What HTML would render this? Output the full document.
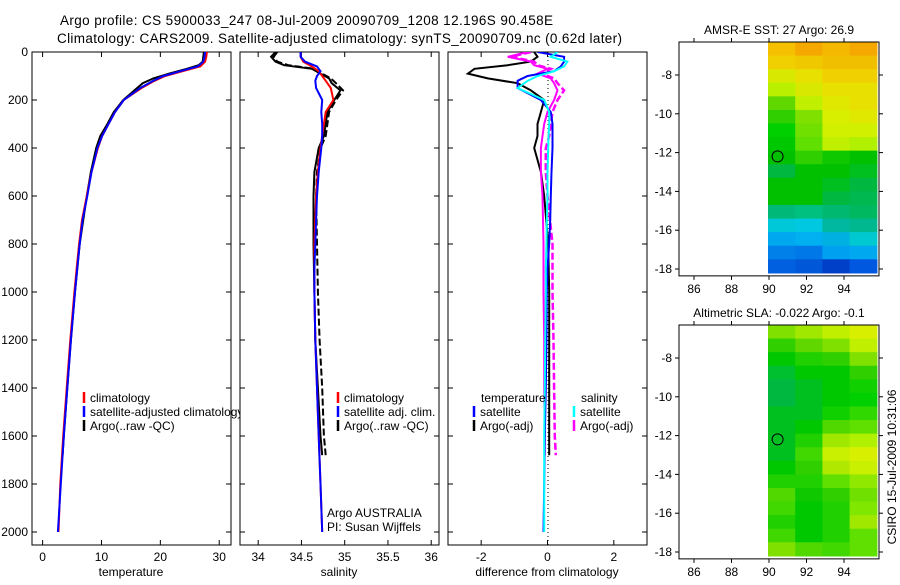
<!DOCTYPE html>
<html><head><meta charset="utf-8"><style>
body{margin:0;background:#fff;}
svg text{font-family:"Liberation Sans",sans-serif;font-size:12px;fill:#000;}
</style></head><body>
<svg id="fig" width="900" height="580" viewBox="0 0 900 580">
<defs>
<clipPath id="c1"><rect x="32" y="52" width="199" height="493"/></clipPath>
<clipPath id="c2"><rect x="240" y="52" width="199" height="493"/></clipPath>
<clipPath id="c3"><rect x="448" y="52" width="199" height="493"/></clipPath>
</defs>
<rect width="900" height="580" fill="#fff"/>
<text x="60" y="25" style="font-size:13.5px" textLength="493">Argo profile: CS 5900033_247 08-Jul-2009 20090709_1208 12.196S 90.458E</text>
<text x="57" y="43" style="font-size:13.5px" textLength="565">Climatology: CARS2009. Satellite-adjusted climatology: synTS_20090709.nc (0.62d later)</text>
<g id="root"></g>
<text transform="translate(896,467) rotate(-90)" text-anchor="middle">CSIRO 15-Jul-2009 10:31:06</text>
</svg>
<script>
// ---- data ----
const tDepth=[0,20,40,60,80,100,120,150,200,250,300,350,400,500,600,700,800,900,1000,1200,1400,1600,1800,2000];
const tClim=[27.9,27.8,27.6,26.8,23.8,20.8,19.0,16.8,13.8,12.3,11.2,10.1,9.4,8.3,7.5,6.7,6.2,5.8,5.4,4.7,4.1,3.5,3.0,2.7];
const tSat=[27.6,27.5,27.3,26.4,23.4,20.5,18.8,16.6,13.8,12.3,11.2,10.1,9.3,8.3,7.6,6.8,6.3,5.9,5.5,4.8,4.2,3.6,3.1,2.6];
const aDepth=[0,20,40,55,70,90,110,130,160,200,250,300,350,400,500,600,800,1000,1200,1400,1600,1680];
const tArgo=[27.4,27.3,27.2,26.5,24.5,21.5,18.8,17.0,15.6,13.7,12.1,11.0,9.8,9.1,8.2,7.5,6.3,5.5,4.8,4.2,3.6,3.4];
const sClim=[34.49,34.49,34.52,34.62,34.70,34.74,34.78,34.84,34.87,34.78,34.76,34.74,34.72,34.69,34.67,34.66,34.65,34.65,34.65,34.66,34.68,34.70,34.72,34.74];
const sSat=[34.49,34.49,34.54,34.68,34.72,34.68,34.66,34.67,34.74,34.73,34.74,34.74,34.73,34.70,34.68,34.67,34.66,34.65,34.65,34.66,34.68,34.70,34.72,34.74];
const sArgo=[34.20,34.15,34.20,34.30,34.62,34.72,34.82,34.85,34.95,34.88,34.80,34.78,34.76,34.70,34.65,34.64,34.64,34.65,34.66,34.69,34.72,34.74];
const sArgoQC=[34.22,34.18,34.22,34.35,34.65,34.74,34.84,34.90,34.98,34.90,34.82,34.80,34.78,34.72,34.68,34.67,34.68,34.69,34.71,34.74,34.76,34.78];
const dTSat=[-0.3,0.5,0.5,0.4,0.2,-0.6,-0.9,-0.9,-0.2,0.1,0.15,0.15,0.15,0.12,0.1,0.08,0.05,0.0,-0.02,-0.03,-0.05,-0.08,-0.1,-0.12];
const dSSat=[0.3,0.1,0.6,0.5,0.2,-0.3,-0.6,-0.9,-0.1,0.05,0.05,0.03,0.02,0.0,0.0,-0.02,-0.03,-0.05,-0.05,-0.07,-0.08,-0.1,-0.1,-0.1];
const dTArgo=[-0.4,-0.3,-0.5,-1.2,-2.2,-2.4,-1.8,-0.9,-0.5,-0.1,-0.2,-0.3,-0.3,-0.4,-0.2,-0.1,0.02,0.05,0.05,0.05,0.05,0.05];
const dSArgo=[-0.5,-1.1,-0.4,-0.3,0.1,-0.2,0.2,0.3,0.5,0.3,0.15,0.1,0.05,-0.05,-0.05,0.0,0.15,0.15,0.18,0.2,0.22,0.25];
const dSArgoRaw=[-0.6,-1.2,-0.5,-0.4,0.0,-0.3,0.1,0.2,0.3,0.2,0.0,-0.1,-0.15,-0.2,-0.2,-0.15,-0.12,-0.12,-0.1,-0.1,-0.08,-0.08];
const yTicks=[0,200,400,600,800,1000,1200,1400,1600,1800,2000];
const p1Ticks=[0,10,20,30], p2Ticks=[34,34.5,35,35.5,36], p3Ticks=[-2,0,2];
const lonTicks=[86,88,90,92,94], latTicks=[-8,-10,-12,-14,-16,-18];
const floatLon=90.458, floatLat=-12.196;
const sstGrid=[
["#f5c000","#f5a800","#f5b800","#f5a800"],["#f0d000","#f0c800","#f0c000","#f0c000"],
["#d8e800","#e8e000","#f0d000","#f0d000"],["#b8f000","#d8e800","#e8e000","#e8e000"],
["#60d800","#c0f000","#e0e800","#e8e000"],["#30d000","#80e000","#d8f000","#e0e800"],
["#00d000","#70e000","#d0f000","#d0f000"],["#00c800","#60e000","#c0f000","#b0f000"],
["#00c000","#30d000","#10c800","#00c000"],["#00b840","#00c000","#00c000","#00c020"],
["#00c000","#00c000","#00c020","#00b840"],["#00c000","#00c000","#00b840","#00b850"],
["#00b878","#00c080","#00b870","#00b860"],["#00c8d8","#00c8e0","#00b8a0","#00b890"],
["#00a8f0","#00b0f0","#00b0e0","#00c8d0"],["#0080e8","#0078e8","#00a0f0","#00a8f0"],
["#0060e0","#0058d8","#0040c8","#0058e0"]];
const slaGrid=[
["#80e000","#a0e800","#c0f000","#d8f000"],["#30d000","#60d800","#80e000","#c0f000"],
["#00c800","#20d000","#30d000","#80e000"],["#00c030","#00c800","#00c800","#30d000"],
["#00b840","#00c020","#00c800","#10d000"],["#00b840","#00c020","#00c800","#00d000"],
["#00c020","#00c020","#10d000","#30d800"],["#00c020","#00c800","#50d800","#60e000"],
["#00c020","#20d000","#a0e800","#b0f000"],["#00c020","#40d800","#c8f000","#d8f000"],
["#00c800","#30d000","#b0e800","#c8f000"],["#20d000","#20d000","#60e000","#90e800"],
["#50d800","#10c800","#30d000","#70e000"],["#40d800","#00c800","#20d000","#80e800"],
["#20d000","#00c800","#20d000","#a0e800"],["#40d800","#00c800","#20d000","#60e000"],
["#80e000","#50d800","#40d800","#60e000"]];

// ---- helpers ----
const NS="http://www.w3.org/2000/svg", root=document.getElementById('root');
function mk(tag,attrs,parent){const e=document.createElementNS(NS,tag);for(const k in attrs)e.setAttribute(k,attrs[k]);(parent||root).appendChild(e);return e;}
const yD=d=>52+d*0.24;
const panels=[
 {x0:32,lo:-1.8,hi:32,ticks:p1Ticks,clip:'c1',label:'temperature',name:'temperature-panel'},
 {x0:240,lo:33.79,hi:36.09,ticks:p2Ticks,clip:'c2',label:'salinity',name:'salinity-panel'},
 {x0:448,lo:-3,hi:3,ticks:p3Ticks,clip:'c3',label:'difference from climatology',name:'difference-panel'}];
panels.forEach(p=>{p.x=v=>p.x0+(v-p.lo)/(p.hi-p.lo)*199;});

function drawPanel(p,i){
  const g=mk('g',{});
  
  
  mk('rect',{x:p.x0,y:52,width:199,height:493,fill:'#fff',stroke:'#000','stroke-width':1},g);
  p.ticks.forEach(t=>{const x=p.x(t);
    mk('line',{x1:x,x2:x,y1:545,y2:540,stroke:'#000'},g);mk('line',{x1:x,x2:x,y1:52,y2:57,stroke:'#000'},g);
    const tx=mk('text',{x:x,y:561,'text-anchor':'middle'},g);tx.textContent=String(t);
    
    });
  yTicks.forEach(d=>{const y=yD(d);
    mk('line',{x1:p.x0,x2:p.x0+5,y1:y,y2:y,stroke:'#000'},g);mk('line',{x1:p.x0+199,x2:p.x0+194,y1:y,y2:y,stroke:'#000'},g);
    if(i===0){const tx=mk('text',{x:28,y:y+4,'text-anchor':'end'},g);tx.textContent=String(d);
      
      }});
  const lb=mk('text',{x:p.x0+99,y:576,'text-anchor':'middle'},g);lb.textContent=p.label;
  
  
  return g;
}
function line(p,g,depths,vals,color,name,dash,w){
  const pts=depths.map((d,k)=>p.x(vals[k]).toFixed(1)+','+yD(d).toFixed(1)).join(' ');
  const e=mk('polyline',{points:pts,fill:'none',stroke:color,'stroke-width':w||2,'clip-path':'url(#'+p.clip+')'},g);
  if(dash)e.setAttribute('stroke-dasharray',dash);
  
  
}
function legend(g,x,y,color,text,name){
  mk('line',{x1:x,x2:x,y1:y-10,y2:y+1,stroke:color,'stroke-width':2.5},g);
  const t=mk('text',{x:x+6,y:y},g);t.textContent=text;
  
  
}
// panel 1
let g=drawPanel(panels[0],0);
line(panels[0],g,aDepth,tArgo,'#000','temp-argo-line');
line(panels[0],g,tDepth,tClim,'#f00','temp-climatology-line');
line(panels[0],g,tDepth,tSat,'#00f','temp-satellite-line');
legend(g,84,402,'#f00','climatology','legend-climatology');
legend(g,84,416,'#00f','satellite-adjusted climatology','legend-satellite-adjusted');
legend(g,84,430,'#000','Argo(..raw -QC)','legend-argo');
// panel 2
g=drawPanel(panels[1],1);
line(panels[1],g,aDepth,sArgo,'#000','sal-argo-line');
line(panels[1],g,aDepth,sArgoQC,'#000','sal-argo-qc-line','7,3');
line(panels[1],g,tDepth,sClim,'#f00','sal-climatology-line');
line(panels[1],g,tDepth,sSat,'#00f','sal-satellite-line');
legend(g,338,402,'#f00','climatology','legend-climatology');
legend(g,338,416,'#00f','satellite adj. clim.','legend-satellite-adj');
legend(g,338,430,'#000','Argo(..raw -QC)','legend-argo');
let t=mk('text',{x:327,y:517},g);t.textContent='Argo AUSTRALIA';


t=mk('text',{x:327,y:531},g);t.textContent='PI: Susan Wijffels';


// panel 3
g=drawPanel(panels[2],2);
mk('line',{x1:548,x2:548,y1:52,y2:545,stroke:'#000','stroke-dasharray':'1,3'},g);
line(panels[2],g,aDepth,dTArgo,'#000','diff-temp-argo-line');
line(panels[2],g,aDepth,dSArgoRaw,'#f0f','diff-sal-argo-raw-line');
line(panels[2],g,aDepth,dSArgo,'#f0f','diff-sal-argo-line','7,3',2.5);
line(panels[2],g,tDepth,dTSat,'#00f','diff-temp-satellite-line');
line(panels[2],g,tDepth,dSSat,'#0ff','diff-sal-satellite-line');
t=mk('text',{x:481,y:402},g);t.textContent='temperature';


t=mk('text',{x:581,y:402},g);t.textContent='salinity';


legend(g,474,416,'#00f','satellite','legend-temp-satellite');
legend(g,474,430,'#000','Argo(-adj)','legend-temp-argo');
legend(g,574,416,'#0ff','satellite','legend-sal-satellite');
legend(g,574,430,'#f0f','Argo(-adj)','legend-sal-argo');

// ---- maps ----
function drawMap(top,grid,title,name){
  const lx=lon=>694+(lon-86)*18.75, ly=lat=>top+33+(-8-lat)*19.4;
  const mg=mk('g',{});
  
  
  mk('rect',{x:679,y:top,width:200,height:ly(-18.2)-top+1,fill:'#fff'},mg);
  const x0=lx(90)-1,x1=lx(95.75),y0=top,y1=ly(-18.2);
  const cw=(x1-x0)/grid[0].length,rh=(y1-y0)/grid.length;
  grid.forEach((row,r)=>row.forEach((c,k)=>{
    const cell=mk('rect',{x:x0+k*cw,y:y0+r*rh,width:cw+0.6,height:rh+0.6,fill:c},mg);
    
    }));
  mk('rect',{x:679,y:top,width:200,height:y1-top+3,fill:'none',stroke:'#000'},mg);
  const bot=y1+3;
  lonTicks.forEach(l=>{const x=lx(l);
    mk('line',{x1:x,x2:x,y1:top,y2:top-4,stroke:'#000'},mg);mk('line',{x1:x,x2:x,y1:bot,y2:bot+4,stroke:'#000'},mg);
    const tx=mk('text',{x:x,y:bot+17,'text-anchor':'middle'},mg);tx.textContent=String(l);
    
    });
  latTicks.forEach(l=>{const y=ly(l);
    mk('line',{x1:679,x2:675,y1:y,y2:y,stroke:'#000'},mg);mk('line',{x1:879,x2:883,y1:y,y2:y,stroke:'#000'},mg);
    const tx=mk('text',{x:672,y:y+4,'text-anchor':'end'},mg);tx.textContent=String(l);
    
    });
  const c=mk('circle',{cx:lx(floatLon),cy:ly(floatLat),r:5.5,fill:'none',stroke:'#000','stroke-width':1},mg);
  
  
  const tt=mk('text',{x:779,y:top-8,'text-anchor':'middle'},mg);tt.textContent=title;
  
  
}
drawMap(42,sstGrid,'AMSR-E SST: 27 Argo: 26.9','sst-map');
drawMap(325,slaGrid,'Altimetric SLA: -0.022 Argo: -0.1','sla-map');
</script>
</body></html>
